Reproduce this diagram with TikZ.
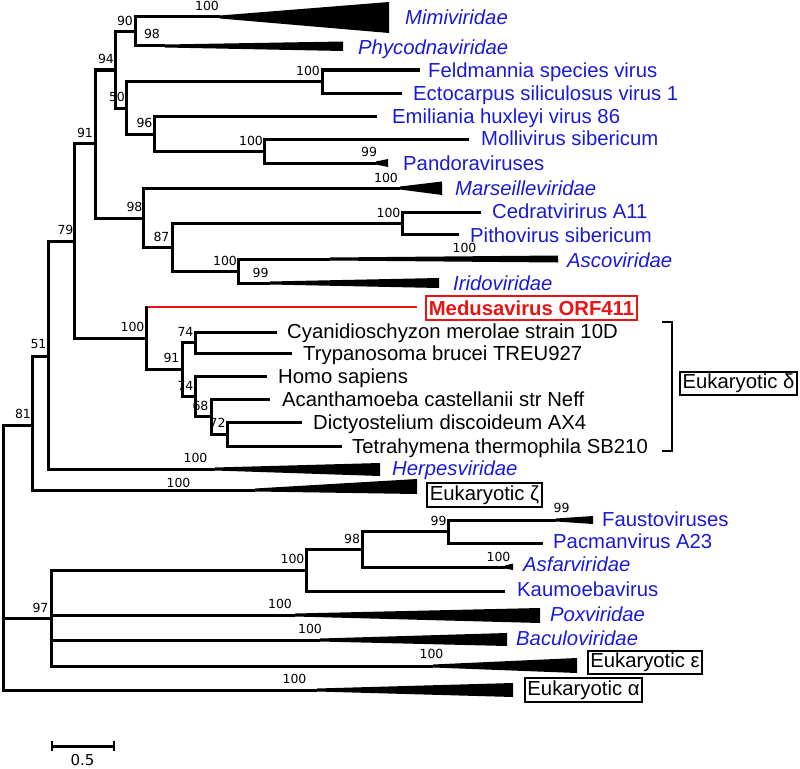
\documentclass[tikz,border=0pt]{standalone}
\usepackage{fontspec}
\setmainfont{Liberation Sans}
\newfontfamily\dvs{DejaVu Sans}
\definecolor{vblue}{RGB}{26,26,214}
\definecolor{vred}{RGB}{232,20,20}
\newcommand{\wdg}[5]{\fill (#1,#2-1.5) -- (#3,#4) -- (#3,#5) -- (#1,#2+1.5) -- cycle;}
\tikzset{
  tree/.style={line width=3pt, line join=miter},
  lab/.style={font=\dvs\fontsize{12.5}{12.5}\selectfont, inner sep=0pt, text height=9pt, text depth=0pt, anchor=center},
  leaf/.style={font=\fontsize{20.3}{24}\selectfont, inner sep=0pt, text height=14.6pt, text depth=0pt, anchor=west},
  vir/.style={leaf, text=vblue},
  fam/.style={leaf, text=vblue, font=\itshape\fontsize{20.3}{24}\selectfont},
  euk/.style={leaf},
  ebox/.style={draw, line width=2.2pt, font=\fontsize{20.3}{24}\selectfont, inner xsep=2.5pt, inner ysep=2.3pt, text height=14.6pt, text depth=4.2pt, anchor=center},
  mbox/.style={draw=vred, line width=1.8pt, text=vred, font=\bfseries\fontsize{20.3}{24}\selectfont, inner xsep=3pt, inner ysep=5pt, text height=14.6pt, text depth=0pt, anchor=center}
}
\begin{document}
\begin{tikzpicture}[x=1pt,y=-1pt]
\useasboundingbox (0,0) rectangle (800,768);
% internal nodes
\coordinate (R) at (3,557.5);
\coordinate (n81) at (32,425);
\coordinate (n51) at (48,356);
\coordinate (n79) at (74,241);
\coordinate (n91) at (95,143);
\coordinate (n94) at (115,70);
\coordinate (n90) at (135,31.5);
\coordinate (n50) at (126,108);
\coordinate (nFE) at (322,81.5);
\coordinate (n96) at (154,134);
\coordinate (nMP) at (264,151);
\coordinate (n98) at (143,218);
\coordinate (n87) at (172,247.5);
\coordinate (nCP) at (402,223);
\coordinate (nAI) at (238,271);
\coordinate (nMd) at (146,338.5);
\coordinate (nEa) at (182,369.5);
\coordinate (nEb) at (195,342.5);
\coordinate (nEc) at (195,396.5);
\coordinate (nEd) at (211,416.5);
\coordinate (nEe) at (227,434);
\coordinate (n97) at (51,618);
\coordinate (nAs) at (306,570.5);
\coordinate (n98b) at (362,549.5);
\coordinate (n99) at (448,531.5);
% leaves
\coordinate (mimi) at (220,17);
\coordinate (phyco) at (165,46);
\coordinate (feld) at (420,70);
\coordinate (ecto) at (402,93);
\coordinate (emil) at (377,116);
\coordinate (molli) at (469,139);
\coordinate (pando) at (376,163);
\coordinate (marse) at (400,188);
\coordinate (cedr) at (481,212);
\coordinate (pitho) at (459,234);
\coordinate (asco) at (330,259);
\coordinate (irido) at (270,283);
\coordinate (medusa) at (417,307);
\coordinate (cyan) at (277,332);
\coordinate (tryp) at (292,353);
\coordinate (homo) at (267,376);
\coordinate (acan) at (270,399);
\coordinate (dict) at (302,422);
\coordinate (tetra) at (342,446);
\coordinate (herpes) at (215,469);
\coordinate (eukz) at (255,490);
\coordinate (fausto) at (556,520);
\coordinate (pacman) at (543,543);
\coordinate (asfar) at (505,567);
\coordinate (kaum) at (505,591);
\coordinate (pox) at (295,615);
\coordinate (bacu) at (320,640);
\coordinate (euke) at (433,666);
\coordinate (euka) at (317,690);
% branches
\draw[tree] (R) |- (n81); \draw[tree] (R) |- (n97); \draw[tree] (R) |- (euka);
\draw[tree] (n81) |- (n51); \draw[tree] (n81) |- (eukz);
\draw[tree] (n51) |- (n79); \draw[tree] (n51) |- (herpes);
\draw[tree] (n79) |- (n91); \draw[tree] (n79) |- (nMd);
\draw[tree] (n91) |- (n94); \draw[tree] (n91) |- (n98);
\draw[tree] (n94) |- (n90); \draw[tree] (n94) |- (n50);
\draw[tree] (n90) |- (mimi); \draw[tree] (n90) |- (phyco);
\draw[tree] (n50) |- (nFE); \draw[tree] (n50) |- (n96);
\draw[tree] (nFE) |- (feld); \draw[tree] (nFE) |- (ecto);
\draw[tree] (n96) |- (emil); \draw[tree] (n96) |- (nMP);
\draw[tree] (nMP) |- (molli); \draw[tree] (nMP) |- (pando);
\draw[tree] (n98) |- (marse); \draw[tree] (n98) |- (n87);
\draw[tree] (n87) |- (nCP); \draw[tree] (n87) |- (nAI);
\draw[tree] (nCP) |- (cedr); \draw[tree] (nCP) |- (pitho);
\draw[tree] (nAI) |- (asco); \draw[tree] (nAI) |- (irido);
\draw[tree] (nMd) |- (nEa);
\draw[tree, vred, line width=2.6pt] (nMd |- medusa) -- (medusa);
\draw[tree] (nMd) -- ([yshift=1.3pt]nMd |- medusa);
\draw[tree] (nEa) |- (nEb); \draw[tree] (nEa) |- (nEc);
\draw[tree] (nEb) |- (cyan); \draw[tree] (nEb) |- (tryp);
\draw[tree] (nEc) |- (homo); \draw[tree] (nEc) |- (nEd);
\draw[tree] (nEd) |- (acan); \draw[tree] (nEd) |- (nEe);
\draw[tree] (nEe) |- (dict); \draw[tree] (nEe) |- (tetra);
\draw[tree] (n97) |- (nAs); \draw[tree] (n97) |- (pox); \draw[tree] (n97) |- (bacu); \draw[tree] (n97) |- (euke);
\draw[tree] (nAs) |- (n98b); \draw[tree] (nAs) |- (kaum);
\draw[tree] (n98b) |- (n99); \draw[tree] (n98b) |- (asfar);
\draw[tree] (n99) |- (fausto); \draw[tree] (n99) |- (pacman);
% collapsed clades
\wdg{220}{17}{389}{2}{33}
\wdg{165}{46}{343}{41.5}{51}
\wdg{376}{163}{388}{159}{167}
\wdg{400}{188}{442}{181.5}{195}
\wdg{330}{259}{558}{255.5}{262.5}
\wdg{270}{283}{439}{278}{288}
\wdg{215}{469}{380}{463}{476}
\wdg{255}{490}{417}{479}{494}
\wdg{556}{520}{593}{516}{524}
\wdg{505}{567}{513}{563.5}{570}
\wdg{295}{615}{540}{608}{623}
\wdg{320}{640}{507}{633}{646}
\wdg{433}{666}{577}{658}{673}
\wdg{317}{690}{513}{683}{697}
% support values
\node[lab] (b1) at (207,6) {100};
\node[lab] (b2) at (125,21) {90};
\node[lab] (b3) at (152,34.5) {98};
\node[lab] (b4) at (106,59) {94};
\node[lab] (b5) at (308,70.5) {100};
\node[lab] (b6) at (117,97) {50};
\node[lab] (b7) at (144.5,122.5) {96};
\node[lab] (b8) at (85,133) {91};
\node[lab] (b9) at (251,140.5) {100};
\node[lab] (b10) at (369,152) {99};
\node[lab] (b11) at (386,177.5) {100};
\node[lab] (b12) at (134.5,206.5) {98};
\node[lab] (b13) at (65.5,229.5) {79};
\node[lab] (b14) at (161.5,236.5) {87};
\node[lab] (b15) at (388.5,212.5) {100};
\node[lab] (b16) at (225,260.5) {100};
\node[lab] (b17) at (260.5,272.5) {99};
\node[lab] (b18) at (464.5,247.5) {100};
\node[lab] (b19) at (132.5,327) {100};
\node[lab] (b20) at (38.5,343.5) {51};
\node[lab] (b21) at (185.5,331.5) {74};
\node[lab] (b22) at (171.5,358) {91};
\node[lab] (b23) at (185.5,385.5) {74};
\node[lab] (b24) at (200.5,405.5) {68};
\node[lab] (b25) at (217.5,423) {72};
\node[lab] (b26) at (23,413.5) {81};
\node[lab] (b27) at (195.5,458) {100};
\node[lab] (b28) at (178.5,483) {100};
\node[lab] (b29) at (561.5,508) {99};
\node[lab] (b30) at (438.5,521) {99};
\node[lab] (b31) at (352,538.5) {98};
\node[lab] (b32) at (292.5,559) {100};
\node[lab] (b33) at (498.5,556.5) {100};
\node[lab] (b34) at (40.5,607.5) {97};
\node[lab] (b35) at (280,603.5) {100};
\node[lab] (b36) at (310,628.5) {100};
\node[lab] (b37) at (431.5,654) {100};
\node[lab] (b38) at (294.5,678.5) {100};
% taxa
\node[fam] (tMimi) at (405,17) {Mimiviridae};
\node[fam] (tPhyco) at (358,47.5) {Phycodnaviridae};
\node[vir] (tFeld) at (428,70) {Feldmannia species virus};
\node[vir] (tEcto) at (413,93) {Ectocarpus siliculosus virus 1};
\node[vir] (tEmil) at (392,116) {Emiliania huxleyi virus 86};
\node[vir] (tMolli) at (481,138.5) {Mollivirus sibericum};
\node[vir] (tPando) at (403,163) {Pandoraviruses};
\node[fam] (tMarse) at (455,188.5) {Marseilleviridae};
\node[vir] (tCedr) at (492,211.5) {Cedratvirirus A11};
\node[vir] (tPitho) at (470,235) {Pithovirus sibericum};
\node[fam] (tAsco) at (567,260) {Ascoviridae};
\node[fam] (tIrido) at (453,283) {Iridoviridae};
\node[mbox] (tMedusa) at (531.5,308) {Medusavirus ORF411};
\node[euk] (tCyan) at (287,331) {Cyanidioschyzon merolae strain 10D};
\node[euk] (tTryp) at (303,353) {Trypanosoma brucei TREU927};
\node[euk] (tHomo) at (278,376) {Homo sapiens};
\node[euk] (tAcan) at (282,399) {Acanthamoeba castellanii str Neff};
\node[euk] (tDict) at (313,422) {Dictyostelium discoideum AX4};
\node[euk] (tTetra) at (352,446) {Tetrahymena thermophila SB210};
\node[fam] (tHerpes) at (392,468) {Herpesviridae};
\node[vir] (tFausto) at (602,519) {Faustoviruses};
\node[vir] (tPacman) at (553,541) {Pacmanvirus A23};
\node[fam] (tAsfar) at (523,564) {Asfarviridae};
\node[vir] (tKaum) at (517,589) {Kaumoebavirus};
\node[fam] (tPox) at (550,614) {Poxviridae};
\node[fam] (tBacu) at (516,638) {Baculoviridae};
\node[ebox] (eD) at (738.5,383.5) {Eukaryotic δ};
\node[ebox] (eZ) at (484.5,495) {Eukaryotic ζ};
\node[ebox] (eE) at (645,662.5) {Eukaryotic ε};
\node[ebox] (eA) at (583.5,690) {Eukaryotic α};
% bracket
\coordinate (br1) at (662,322);
\coordinate (br2) at (662,451);
\draw[line width=2.4pt, line join=miter] (br1) -- ++(10,0) |- (br2);
% scale bar
\coordinate (sb1) at (52,746);
\coordinate (sb2) at (114,746);
\draw[line width=3pt] (sb1) -- (sb2);
\draw[line width=2.6pt] ([yshift=5pt]sb1) -- ([yshift=-5pt]sb1);
\draw[line width=2.6pt] ([yshift=5pt]sb2) -- ([yshift=-5pt]sb2);
\node[font=\dvs\fontsize{15}{15}\selectfont, inner sep=0pt, text height=11pt, text depth=0pt] (sbl) at (82.5,760) {0.5};
\end{tikzpicture}
\end{document}
